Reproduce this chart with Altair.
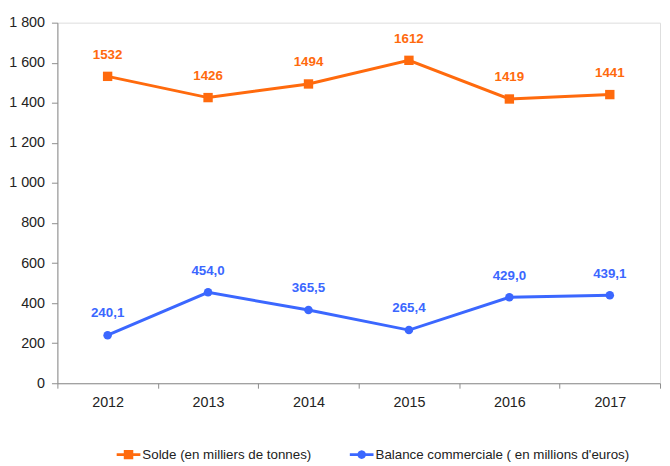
import math
import altair as alt
import pandas as pd

years = ["2012", "2013", "2014", "2015", "2016", "2017"]
solde = [1532, 1426, 1494, 1612, 1419, 1441]
balance = [240.1, 454.0, 365.5, 265.4, 429.0, 439.1]
series_names = ["Solde (en milliers de tonnes)", "Balance commerciale ( en millions d'euros)"]
colors = ["#FF6A0D", "#3B67FF"]
y_ticks = [0, 200, 400, 600, 800, 1000, 1200, 1400, 1600, 1800]

rows = []
for yr, s, b in zip(years, solde, balance):
    rows.append({"annee": yr, "serie": series_names[0], "valeur": s, "label": str(s)})
    rows.append({"annee": yr, "serie": series_names[1], "valeur": b,
                 "label": f"{b:.1f}".replace(".", ",")})
df = pd.DataFrame(rows)

# legend symbols: a short line with the marker in the middle (plain polygons)
bar = "M-1,-0.125L1,-0.125L1,0.125L-1,0.125Z"
sym_square = bar + " M-0.4,-0.4L0.4,-0.4L0.4,0.4L-0.4,0.4Z"
pts = []
for k in range(16):
    a = 2 * math.pi * k / 16
    pts.append(f"{0.36 * math.cos(a):.3f},{0.36 * math.sin(a):.3f}")
sym_circle = bar + " M" + "L".join(pts) + "Z"

FONT = "Liberation Sans"

x_enc = alt.X("annee:N", sort=years,
              scale=alt.Scale(paddingInner=0, paddingOuter=0),
              axis=alt.Axis(title=None, labelAngle=0, tickBand="extent", grid=False,
                            domainColor="#8c8c8c", tickColor="#8c8c8c", tickSize=5,
                            labelFont=FONT, labelFontSize=14.5, labelColor="#222222",
                            labelPadding=8))
y_enc = alt.Y("valeur:Q",
              scale=alt.Scale(domain=[0, 1800], nice=False),
              axis=alt.Axis(title=None, values=y_ticks, grid=False,
                            domainColor="#8c8c8c", tickColor="#8c8c8c", tickSize=6,
                            labelFont=FONT, labelFontSize=14.5, labelColor="#222222",
                            labelPadding=7,
                            labelExpr="replace(format(datum.value, ','), ',', ' ')"))

base = alt.Chart(df)

# series colours for the drawn marks (data-driven domain, ordered like series_names)
stroke_enc = alt.Stroke("serie:N", sort=series_names,
                        scale=alt.Scale(range=colors), legend=None)
fill_enc = alt.Fill("serie:N", sort=series_names,
                    scale=alt.Scale(range=colors), legend=None)

lines = base.mark_line(strokeWidth=3).encode(
    x=x_enc, y=y_enc, stroke=stroke_enc, detail="serie:N",
)

squares = base.transform_filter(alt.datum.serie == series_names[0]).mark_square(
    size=90, opacity=1).encode(x=x_enc, y=y_enc, fill=fill_enc)

circles = base.transform_filter(alt.datum.serie == series_names[1]).mark_circle(
    size=75, opacity=1).encode(x=x_enc, y=y_enc, fill=fill_enc)

labels = base.mark_text(fontWeight="bold", font=FONT, fontSize=13.5, dy=-22,
                        baseline="middle").encode(
    x=x_enc, y=y_enc, text="label:N", fill=fill_enc,
)

# legend-only layer: no rows survive the filter, the legend comes from the scale domain
legend_layer = base.transform_filter("false").mark_point(filled=True, opacity=1).encode(
    x=x_enc, y=y_enc,
    color=alt.Color("serie:N", scale=alt.Scale(domain=series_names, range=colors),
                    legend=alt.Legend(title=None, orient="none", direction="horizontal",
                                      legendX=60, legendY=425,
                                      symbolSize=576, symbolStrokeWidth=0,
                                      symbolOpacity=1,
                                      labelFont=FONT, labelFontSize=13.5,
                                      labelColor="#222222", labelOffset=2,
                                      labelLimit=400, columnPadding=38)),
    shape=alt.Shape("serie:N", scale=alt.Scale(domain=series_names,
                                                range=[sym_square, sym_circle])),
)

chart = alt.layer(lines, squares, circles, labels, legend_layer).properties(
    width=610, height=365,
    autosize=alt.AutoSizeParams(type="none"),
    padding={"left": 50, "top": 12, "right": 2, "bottom": 88},
).configure_view(stroke=None).configure(background="white")

chart.save("out.html", embed_options={"renderer": "svg", "actions": False})
